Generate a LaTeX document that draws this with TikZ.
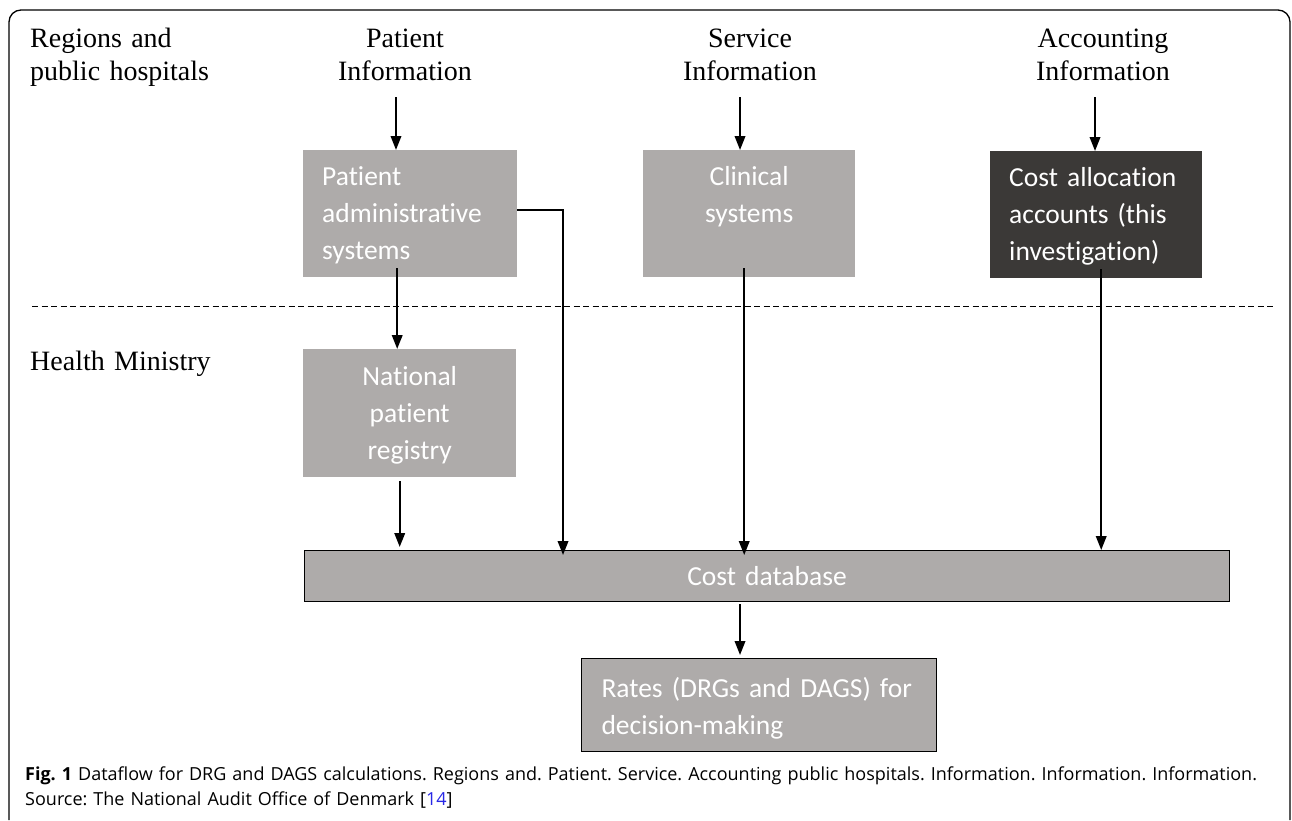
\documentclass[tikz,border=0pt]{standalone}
\usepackage{fontspec}
\setmainfont{Liberation Serif}
\newfontfamily\calibri[Ligatures=NoCommon]{Carlito}
\newfontfamily\didascaliafont{Open Sans}
\usetikzlibrary{arrows.meta}
\definecolor{Grigio}{RGB}{174, 171, 170}
\definecolor{Scuro}{RGB}{59, 57, 55}
\definecolor{Blu}{RGB}{40, 40, 230}
\tikzset{
    scatola/.style = {rectangle, anchor=north west, fill=Grigio, text=white, inner xsep=19pt, inner ysep=0pt, text height=35pt, font=\calibri\fontsize{27.5}{37}\selectfont},
    intestazione/.style = {anchor=base, align=center, text width=220pt, inner xsep=0pt, inner ysep=17pt, font=\fontsize{28}{33}\selectfont},
    freccia/.style = {arrows = {-Triangle[length=14pt, width=10.5pt]}, line width=2pt}
}

\begin{document}
\begin{tikzpicture}[x=1pt, y=-1pt]
    \useasboundingbox (0,0) rectangle (1292,820);

    % cornice
    \draw[line width=1.3pt, rounded corners=12pt] (9,820) -- (9,10) -- (1290,10) -- (1290,820);

    \node[intestazione, anchor=base west, align=left] (regioni) at (30,47) {Regions and\\public hospitals};
    \node[intestazione] (paziente) at (405,47) {Patient\\Information};
    \node[intestazione] (servizio) at (750,47) {Service\\Information};
    \node[intestazione] (contabilita) at (1103,47) {Accounting\\Information};
    \node[intestazione, anchor=base west, align=left] (ministero) at (30,370) {Health Ministry};

    \draw[line width=1pt, dash pattern=on 6pt off 3.5pt] (32,306) -- (1276,306);

    \node[scatola, text width=176pt, text depth=92pt, align=left] (amministrativi) at (303,150) {Patient\\administrative\\systems};
    \node[scatola, text width=174pt, text depth=92pt, align=center] (clinici) at (643,150) {Clinical\\systems};
    \node[scatola, text width=174pt, text depth=92pt, align=left, fill=Scuro] (contabili) at (990,151) {Cost allocation\\accounts (this\\investigation)};
    \node[scatola, text width=175pt, text height=36pt, text depth=92pt, align=center] (registro) at (303,349) {National\\patient\\registry};
    \node[scatola, text width=925pt, inner xsep=0pt, text depth=16pt, align=center, draw=black, line width=1pt] (costi) at (304,550) {Cost database};
    \node[scatola, text width=315pt, inner xsep=20pt, text height=39pt, text depth=54pt, align=left, draw=black, line width=1pt] (tariffe) at (581,658) {Rates (DRGs and DAGS) for\\decision-making};

    \draw[freccia] ([xshift=-9pt]paziente.south) -- ([xshift=-9pt]paziente.south |- amministrativi.north);
    \draw[freccia] ([xshift=-10pt]servizio.south) -- ([xshift=-10pt]servizio.south |- clinici.north);
    \draw[freccia] ([xshift=-8pt]contabilita.south) -- ([xshift=-8pt]contabilita.south |- contabili.north);

    \draw[freccia] ([xshift=-13pt, yshift=9pt]amministrativi.south) -- ([xshift=-13pt]amministrativi.south |- registro.north);
    \draw[freccia] ([yshift=4pt]amministrativi.east) -| ([xshift=-204pt, yshift=-5pt]costi.north);
    \draw[freccia] ([xshift=-5pt, yshift=9pt]clinici.south) -- ([xshift=-5pt, yshift=-5pt]clinici.south |- costi.north);
    \draw[freccia] ([xshift=5pt, yshift=9pt]contabili.south) -- ([xshift=5pt]contabili.south |- costi.north);
    \draw[freccia, shorten >=3pt] ([xshift=-10pt, yshift=-4pt]registro.south) -- ([xshift=-10pt]registro.south |- costi.north);
    \draw[freccia, shorten >=3pt] ([xshift=-27pt, yshift=-2pt]costi.south) -- ([xshift=-27pt]costi.south |- tariffe.north);

    \node[anchor=base west, align=left, text width=1265pt, inner sep=0pt, font=\didascaliafont\fontsize{18}{25}\selectfont\frenchspacing] (didascalia) at (25,780)
        {\textbf{Fig. 1} Dataflow for DRG and DAGS calculations. Regions and. Patient. Service. Accounting public hospitals. Information. Information. Information.\\Source: The National Audit Office of Denmark [\textcolor{Blu}{14}]};
\end{tikzpicture}
\end{document}
